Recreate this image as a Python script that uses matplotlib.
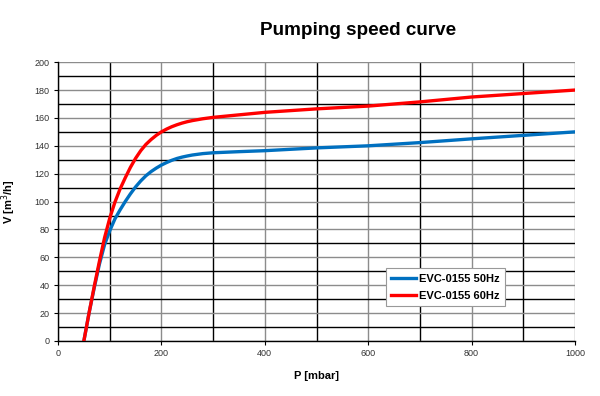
import matplotlib
matplotlib.use('Agg')
import matplotlib.pyplot as plt
from matplotlib.ticker import MultipleLocator

plt.rcParams['font.family'] = ['Liberation Sans', 'DejaVu Sans']

# pressure [mbar] and pumping speed [m3/h]
p_50hz = [50, 60, 70, 80, 90, 100, 110, 120, 130, 140, 150, 160, 170, 180, 190, 200,
          210, 220, 230, 240, 250, 260, 280, 300, 350, 400, 500, 600, 700, 800, 900, 1000]
v_50hz = [0, 20, 38, 55, 69, 79, 87.5, 94, 100, 105.5, 110.5, 114.8, 118.5, 121.5, 124, 126.2,
          128, 129.6, 130.9, 131.9, 132.7, 133.4, 134.4, 135, 135.8, 136.5, 138.5, 140, 142.3, 145, 147.5, 150]

p_60hz = [50, 60, 70, 80, 90, 100, 110, 120, 130, 140, 150, 160, 170, 180, 190, 200,
          210, 220, 230, 240, 250, 260, 280, 300, 350, 400, 500, 600, 700, 800, 900, 1000]
v_60hz = [0, 20, 39, 57, 74, 88, 99.5, 109, 117, 124.5, 131, 136.5, 141, 144.5, 147.5, 150,
          152, 153.7, 155.1, 156.3, 157.3, 158.1, 159.4, 160.4, 162.2, 164, 166.5, 168.5, 171.5, 175, 177.5, 180]

fig = plt.figure(figsize=(6, 3.96), dpi=100)
ax = fig.add_axes([0.0967, 0.139, 0.8616, 0.704])

ax.plot(p_50hz, v_50hz, color='#0070c0', lw=2.4, label='EVC-0155 50Hz', zorder=3)
ax.plot(p_60hz, v_60hz, color='#ff0000', lw=2.4, label='EVC-0155 60Hz', zorder=3)

ax.set_xlim(0, 1000)
ax.set_ylim(0, 200)
ax.xaxis.set_major_locator(MultipleLocator(200))
ax.xaxis.set_minor_locator(MultipleLocator(100))
ax.yaxis.set_major_locator(MultipleLocator(20))
ax.yaxis.set_minor_locator(MultipleLocator(10))

ax.grid(which='major', color='#8c8c8c', lw=1.0)
ax.grid(which='minor', color='black', lw=1.0)
ax.set_axisbelow(True)

for s in ['top', 'right']:
    ax.spines[s].set_visible(False)
for s in ['left', 'bottom']:
    ax.spines[s].set_color('black')
    ax.spines[s].set_linewidth(1.0)

ax.tick_params(which='major', direction='out', length=3, labelsize=6.5,
               labelcolor='#333333', pad=3)
ax.tick_params(which='minor', length=0)

ax.set_xlabel('P [mbar]', fontsize=8, fontweight='bold', labelpad=9)
ax.set_ylabel('V [m$^3$/h]', fontsize=8, fontweight='bold', labelpad=12)

fig.text(0.597, 0.922, 'Pumping speed curve', fontsize=13.6, fontweight='bold',
         ha='center', va='center')

leg = ax.legend(loc='lower left', bbox_to_anchor=(0.634, 0.125),
                prop={'weight': 'bold', 'size': 8}, frameon=True, fancybox=False,
                handlelength=2.2, handletextpad=0.3, borderpad=0.5,
                labelspacing=0.6, borderaxespad=0)
leg.get_frame().set_edgecolor('#999999')
leg.get_frame().set_linewidth(0.8)
leg.get_frame().set_alpha(1)

fig.savefig('out.png', dpi=100)
